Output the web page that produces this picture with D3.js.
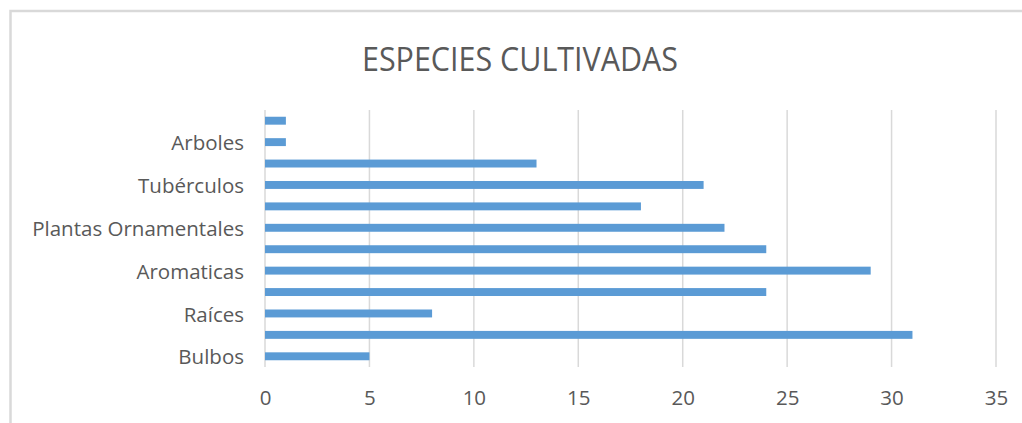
<!DOCTYPE html>
<html>
<head>
<meta charset="utf-8">
<script src="https://cdn.jsdelivr.net/npm/d3@7"></script>
<style>
  html, body { margin: 0; padding: 0; background: #fff; }
  #chart { width: 1022px; height: 423px; }
  text { font-family: "Open Sans", sans-serif; fill: #595959; }
</style>
</head>
<body>
<div id="chart"></div>
<script>
// categories bottom -> top; only every other label is shown in the original
const categories = ["Bulbos", "", "Raíces", "", "Aromaticas", "", "Plantas Ornamentales", "", "Tubérculos", "", "Arboles", ""];
const values = [5, 31, 8, 24, 29, 24, 22, 18, 21, 13, 1, 1];
const xTicks = [0, 5, 10, 15, 20, 25, 30, 35];
const title = "ESPECIES CULTIVADAS";

const w = 1022, h = 423;
const plotL = 265, plotR = 996, plotT = 110, plotB = 367;

const svg = d3.select("#chart").append("svg")
  .attr("width", w)
  .attr("height", h);

// chart frame (only left + top visible in the crop)
svg.append("rect")
  .attr("x", 10.5).attr("y", 11)
  .attr("width", w + 20).attr("height", h + 20)
  .attr("fill", "#fff")
  .attr("stroke", "#d9d9d9")
  .attr("stroke-width", 2.5);

svg.append("text")
  .attr("x", 520).attr("y", 71)
  .attr("text-anchor", "middle")
  .attr("font-size", 32)
  .attr("textLength", 316)
  .attr("lengthAdjust", "spacingAndGlyphs")
  .text(title);

const x = d3.scaleLinear().domain([0, 35]).range([plotL, plotR]);
const y = d3.scaleBand()
  .domain(d3.range(categories.length))
  .range([plotB, plotT])
  .paddingInner(0.63)
  .paddingOuter(0.315);

// vertical gridlines
svg.append("g")
  .selectAll("line")
  .data(xTicks)
  .join("line")
  .attr("x1", d => x(d)).attr("x2", d => x(d))
  .attr("y1", plotT).attr("y2", plotB)
  .attr("stroke", "#d9d9d9")
  .attr("stroke-width", 1.5);

// bars
svg.append("g")
  .selectAll("rect")
  .data(values)
  .join("rect")
  .attr("x", x(0))
  .attr("y", (d, i) => y(i))
  .attr("width", d => x(d) - x(0))
  .attr("height", y.bandwidth())
  .attr("fill", "#5b9bd5");

// x axis labels
const xAxis = svg.append("g")
  .attr("transform", `translate(0,${plotB})`)
  .call(d3.axisBottom(x).tickValues(xTicks).tickSize(0).tickPadding(23));
xAxis.select(".domain").remove();
xAxis.selectAll("text")
  .attr("font-size", 20.5)
  .attr("font-family", "Open Sans, sans-serif")
  .attr("fill", "#595959");

// y axis labels
const yAxis = svg.append("g")
  .attr("transform", `translate(${plotL},0)`)
  .call(d3.axisLeft(y).tickFormat(i => categories[i]).tickSize(0).tickPadding(21));
yAxis.select(".domain").remove();
yAxis.selectAll("text")
  .attr("font-size", 20.5)
  .attr("dy", "0.4em")
  .attr("font-family", "Open Sans, sans-serif")
  .attr("fill", "#595959");
</script>
</body>
</html>
